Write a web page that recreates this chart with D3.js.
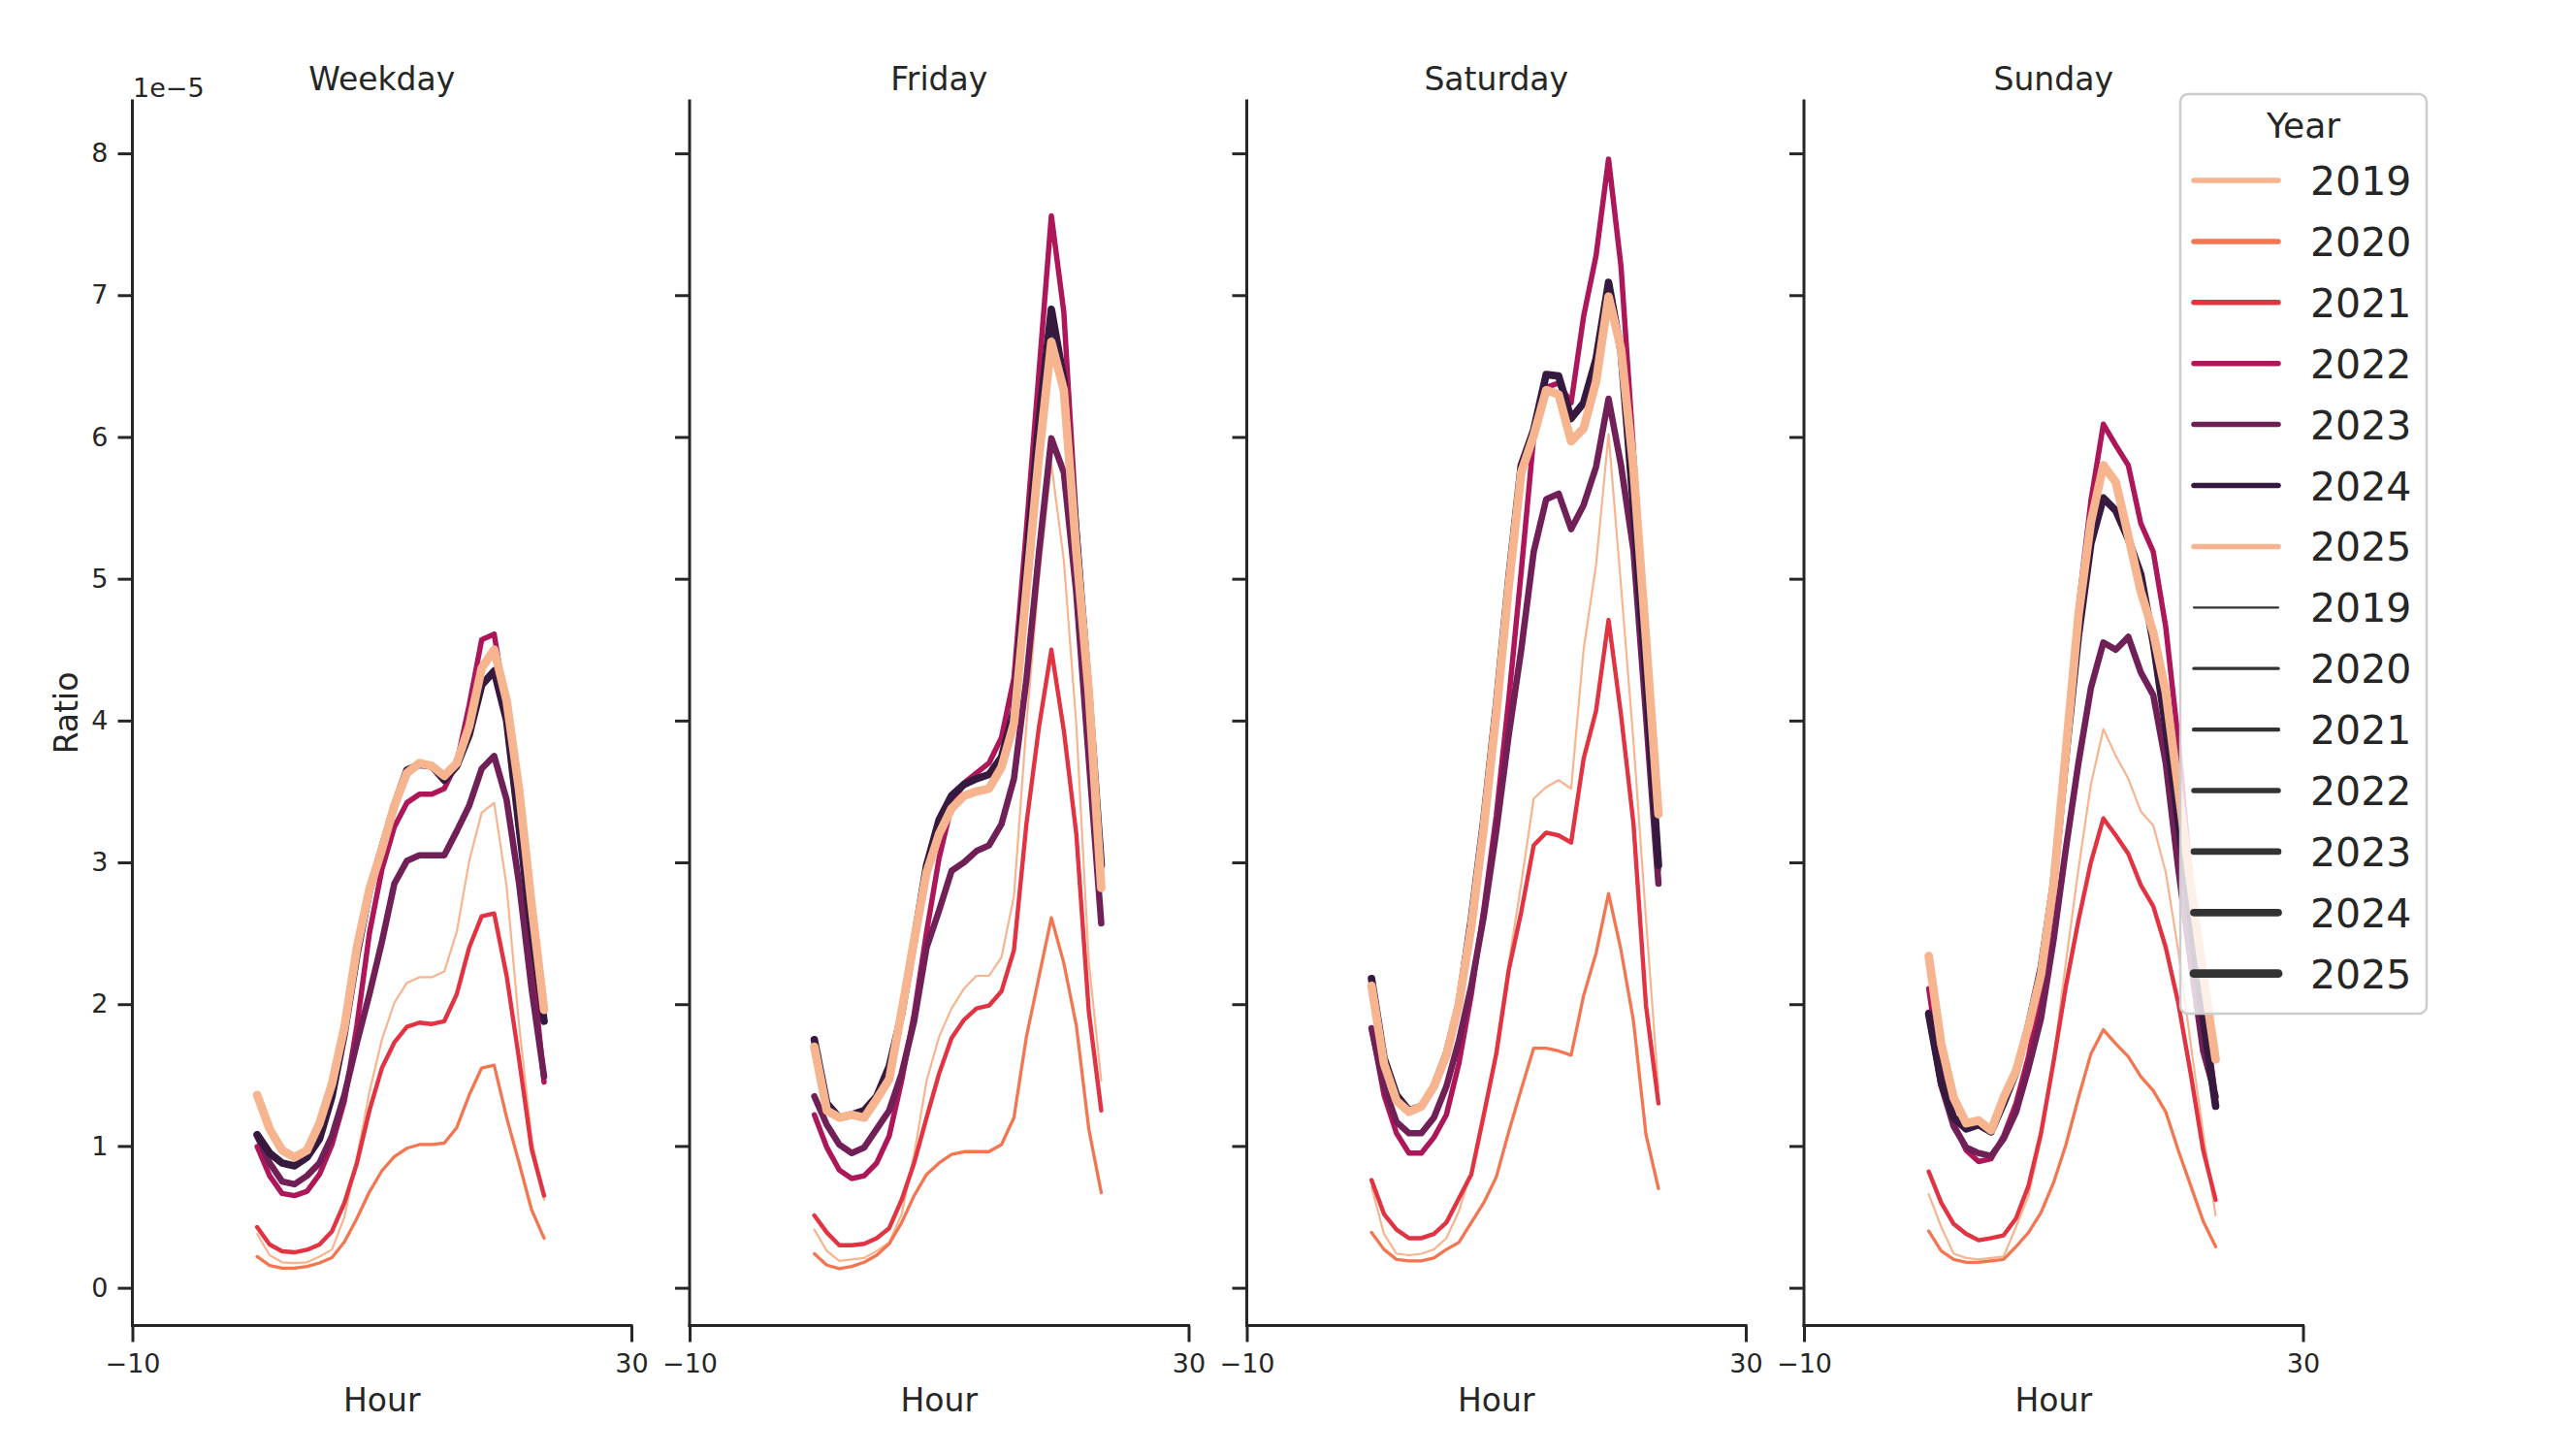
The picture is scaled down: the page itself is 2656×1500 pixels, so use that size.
<!DOCTYPE html>
<html>
<head>
<meta charset="utf-8">
<script src="https://cdn.jsdelivr.net/npm/d3@7"></script>
<style>
  html, body { margin: 0; padding: 0; background: #ffffff; }
  svg { display: block; font-family: "DejaVu Sans", sans-serif; }
</style>
</head>
<body>
<svg id="chart" width="2656" height="1500"></svg>
<script>
// ---------------- data (Ratio in units of 1e-5) ----------------
const hours = [0,1,2,3,4,5,6,7,8,9,10,11,12,13,14,15,16,17,18,19,20,21,22,23];
const panels = ["Weekday", "Friday", "Saturday", "Sunday"];
const years = [2019, 2020, 2021, 2022, 2023, 2024, 2025];

// each row: one year (2019..2025), 24 hourly values
const weekdayValues = [
  [0.38,0.23,0.18,0.175,0.18,0.22,0.27,0.50,0.92,1.38,1.75,2.01,2.15,2.19,2.19,2.23,2.51,3.01,3.35,3.42,2.83,1.85,1.05,0.62],
  [0.22,0.157,0.138,0.138,0.15,0.175,0.213,0.324,0.49,0.676,0.825,0.925,0.984,1.01,1.01,1.02,1.13,1.36,1.55,1.57,1.20,0.88,0.55,0.35],
  [0.428,0.305,0.257,0.25,0.268,0.305,0.398,0.60,0.88,1.25,1.55,1.73,1.84,1.87,1.86,1.88,2.07,2.40,2.62,2.64,2.20,1.61,0.98,0.65],
  [0.996,0.79,0.665,0.65,0.68,0.80,1.01,1.32,1.85,2.50,2.95,3.25,3.42,3.48,3.48,3.52,3.70,4.11,4.57,4.61,4.07,3.29,2.33,1.45],
  [1.07,0.88,0.75,0.73,0.79,0.88,1.07,1.36,1.73,2.07,2.44,2.85,3.01,3.05,3.05,3.05,3.22,3.40,3.66,3.75,3.44,2.85,2.11,1.49],
  [1.08,0.95,0.88,0.86,0.92,1.05,1.35,1.80,2.35,2.80,3.10,3.40,3.65,3.69,3.68,3.58,3.68,3.90,4.25,4.35,4.00,3.25,2.51,1.88],
  [1.36,1.12,0.97,0.92,0.97,1.16,1.44,1.84,2.40,2.81,3.09,3.40,3.63,3.70,3.68,3.61,3.70,3.96,4.37,4.50,4.14,3.51,2.70,1.96]
];
const fridayValues = [
  [0.41,0.26,0.19,0.20,0.21,0.26,0.32,0.52,0.94,1.46,1.77,1.97,2.11,2.20,2.20,2.33,2.76,3.97,5.00,5.81,5.13,3.97,2.30,1.46],
  [0.24,0.16,0.135,0.15,0.18,0.23,0.31,0.46,0.65,0.80,0.88,0.94,0.96,0.96,0.96,1.01,1.20,1.77,2.19,2.61,2.29,1.85,1.12,0.67],
  [0.51,0.39,0.30,0.30,0.31,0.35,0.42,0.62,0.88,1.20,1.51,1.76,1.89,1.97,1.99,2.09,2.38,3.27,3.95,4.50,3.93,3.20,1.95,1.25],
  [1.22,0.99,0.83,0.77,0.79,0.88,1.07,1.46,1.93,2.51,3.03,3.40,3.56,3.63,3.70,3.88,4.30,5.35,6.45,7.56,6.88,5.40,4.20,2.85],
  [1.35,1.15,1.01,0.95,0.99,1.12,1.25,1.51,1.88,2.40,2.66,2.94,3.00,3.08,3.12,3.27,3.59,4.29,5.18,5.99,5.75,4.90,3.73,2.57],
  [1.75,1.30,1.20,1.22,1.25,1.35,1.56,1.93,2.45,2.98,3.30,3.47,3.55,3.59,3.62,3.74,4.07,5.10,6.10,6.90,6.40,5.30,4.20,2.98],
  [1.70,1.25,1.20,1.22,1.20,1.33,1.47,1.95,2.45,2.93,3.20,3.38,3.47,3.50,3.52,3.67,3.98,4.92,5.86,6.67,6.33,5.20,4.20,2.82]
];
const saturdayValues = [
  [0.71,0.38,0.24,0.23,0.24,0.27,0.35,0.54,0.82,1.20,1.69,2.29,2.85,3.45,3.53,3.58,3.52,4.50,5.10,6.02,4.95,3.85,2.60,1.40],
  [0.39,0.27,0.20,0.19,0.19,0.21,0.27,0.32,0.46,0.60,0.78,1.10,1.40,1.69,1.69,1.67,1.64,2.06,2.36,2.78,2.38,1.88,1.08,0.70],
  [0.76,0.52,0.41,0.35,0.35,0.38,0.46,0.63,0.80,1.22,1.65,2.24,2.65,3.12,3.21,3.19,3.14,3.73,4.07,4.71,4.04,3.27,1.99,1.30],
  [1.83,1.36,1.09,0.95,0.95,1.06,1.22,1.58,2.07,2.67,3.33,4.15,5.05,6.00,6.35,6.38,6.24,6.85,7.28,7.96,7.20,5.90,4.60,2.95],
  [1.83,1.42,1.17,1.09,1.09,1.20,1.42,1.74,2.13,2.62,3.22,3.90,4.50,5.19,5.56,5.60,5.35,5.52,5.79,6.27,5.80,5.20,4.04,2.85],
  [2.18,1.62,1.36,1.25,1.28,1.42,1.65,2.00,2.60,3.30,4.10,5.00,5.80,6.05,6.44,6.43,6.13,6.24,6.55,7.09,6.60,5.50,4.30,2.98],
  [2.13,1.58,1.32,1.24,1.28,1.42,1.64,2.00,2.55,3.25,4.05,4.95,5.75,6.01,6.33,6.30,5.97,6.06,6.39,6.99,6.62,5.78,4.58,3.34]
];
const sundayValues = [
  [0.66,0.43,0.24,0.21,0.20,0.21,0.22,0.43,0.65,1.05,1.60,2.30,2.95,3.55,3.94,3.75,3.59,3.36,3.26,2.93,2.38,1.72,1.09,0.51],
  [0.40,0.26,0.20,0.18,0.18,0.19,0.20,0.29,0.39,0.53,0.74,1.01,1.34,1.65,1.82,1.72,1.63,1.49,1.39,1.24,0.97,0.72,0.47,0.29],
  [0.82,0.60,0.45,0.38,0.335,0.35,0.37,0.49,0.72,1.09,1.59,2.13,2.59,3.00,3.31,3.19,3.06,2.84,2.69,2.40,2.01,1.51,0.97,0.62],
  [2.11,1.51,1.16,0.97,0.89,0.91,1.07,1.30,1.63,2.09,2.75,3.70,4.80,5.55,6.09,5.94,5.80,5.39,5.19,4.66,3.86,2.88,2.01,1.34],
  [1.94,1.43,1.14,0.99,0.95,0.93,1.05,1.24,1.55,1.90,2.45,3.10,3.70,4.23,4.55,4.50,4.59,4.34,4.18,3.70,2.96,2.30,1.67,1.35],
  [1.93,1.45,1.20,1.12,1.15,1.10,1.30,1.52,1.85,2.25,2.85,3.75,4.60,5.25,5.57,5.48,5.28,5.03,4.55,3.95,3.30,2.60,1.90,1.28],
  [2.34,1.72,1.34,1.16,1.18,1.11,1.34,1.53,1.84,2.21,2.84,3.79,4.74,5.40,5.80,5.68,5.30,4.91,4.62,4.20,3.52,2.84,2.21,1.61]
];
const panelValues = [weekdayValues, fridayValues, saturdayValues, sundayValues];

const xTicks = [-10, 30];
const yTicks = [0, 1, 2, 3, 4, 5, 6, 7, 8];
const palette = ["#f6b48f", "#f37651", "#e13342", "#ad1759", "#701f57", "#35193e"];

// ---------------- layout ----------------
const svg = d3.select("#chart");
const textColor = "#262626";
const panelLeft0 = 136.5, panelWidth = 514.5, panelStep = 574.5;
const axTop = 104, axBottom = 1366.5;

const y = d3.scaleLinear().domain([-0.266, 8.37]).range([axBottom, axTop]);
const color = d3.scaleOrdinal().domain(years).range(years.map((yr, i) => palette[i % palette.length]));
const width = d3.scaleLinear().domain([2019, 2025]).range([2.2, 8.8]);

svg.append("rect").attr("width", 2656).attr("height", 1500).attr("fill", "#ffffff");

panels.forEach((name, p) => {
  const left = panelLeft0 + p * panelStep;
  const x = d3.scaleLinear().domain([-10, 30]).range([left, left + panelWidth]);
  const g = svg.append("g");

  // lines
  const line = d3.line().x((d, i) => x(hours[i])).y(d => y(d));
  years.forEach((yr, k) => {
    g.append("path")
      .datum(panelValues[p][k])
      .attr("d", line)
      .attr("fill", "none")
      .attr("stroke", color(yr))
      .attr("stroke-width", width(yr))
      .attr("stroke-linejoin", "round")
      .attr("stroke-linecap", "round");
  });

  // y axis
  const yAxis = d3.axisLeft(y).tickValues(yTicks).tickSize(15).tickPadding(10)
    .tickFormat(p === 0 ? d3.format("d") : () => "");
  const ya = g.append("g").attr("transform", `translate(${left},0)`).call(yAxis);
  ya.select(".domain").remove();
  ya.append("line").attr("x1", 0).attr("x2", 0).attr("y1", axTop).attr("y2", axBottom)
    .attr("stroke", textColor).attr("stroke-width", 3).attr("stroke-linecap", "square");
  ya.selectAll(".tick line").attr("stroke", textColor).attr("stroke-width", 3);
  ya.selectAll(".tick text").attr("fill", textColor).attr("font-size", 27)
    .attr("font-family", "DejaVu Sans");

  // x axis
  const xAxis = d3.axisBottom(x).tickValues(xTicks).tickSize(17).tickPadding(12)
    .tickFormat(d => d < 0 ? "\u2212" + Math.abs(d) : String(d));
  const xa = g.append("g").attr("transform", `translate(0,${axBottom})`).call(xAxis);
  xa.select(".domain").remove();
  xa.append("line").attr("x1", left).attr("x2", left + panelWidth).attr("y1", 0).attr("y2", 0)
    .attr("stroke", textColor).attr("stroke-width", 3).attr("stroke-linecap", "square");
  xa.selectAll(".tick line").attr("stroke", textColor).attr("stroke-width", 3);
  xa.selectAll(".tick text").attr("fill", textColor).attr("font-size", 27)
    .attr("font-family", "DejaVu Sans");

  // title
  g.append("text").attr("x", left + panelWidth / 2).attr("y", 93)
    .attr("text-anchor", "middle").attr("font-size", 33).attr("fill", textColor).text(name);
  // x label
  g.append("text").attr("x", left + panelWidth / 2).attr("y", 1455)
    .attr("text-anchor", "middle").attr("font-size", 33).attr("fill", textColor).text("Hour");
});

// y label and offset text
svg.append("text").attr("transform", "translate(80,735) rotate(-90)")
  .attr("text-anchor", "middle").attr("font-size", 33).attr("fill", textColor).text("Ratio");
svg.append("text").attr("x", 137).attr("y", 100).attr("font-size", 27)
  .attr("fill", textColor).text("1e\u22125");

// ---------------- legend ----------------
const lg = svg.append("g");
lg.append("rect").attr("x", 2248).attr("y", 97).attr("width", 254).attr("height", 948)
  .attr("rx", 8).attr("fill", "#ffffff").attr("fill-opacity", 0.8)
  .attr("stroke", "#cccccc").attr("stroke-width", 2.4);
lg.append("text").attr("x", 2375).attr("y", 142).attr("text-anchor", "middle")
  .attr("font-size", 36).attr("fill", textColor).text("Year");
const rowY = i => 186 + 62.9 * i;
const legendRows = years.map(yr => ({ yr, stroke: color(yr), w: width(2022) }))
  .concat(years.map(yr => ({ yr, stroke: "#333333", w: width(yr) })));
legendRows.forEach((r, i) => {
  lg.append("line").attr("x1", 2262).attr("x2", 2349).attr("y1", rowY(i)).attr("y2", rowY(i))
    .attr("stroke", r.stroke).attr("stroke-width", r.w).attr("stroke-linecap", "round");
  lg.append("text").attr("x", 2382).attr("y", rowY(i) + 15).attr("font-size", 41)
    .attr("fill", textColor).text(r.yr);
});
</script>
</body>
</html>
